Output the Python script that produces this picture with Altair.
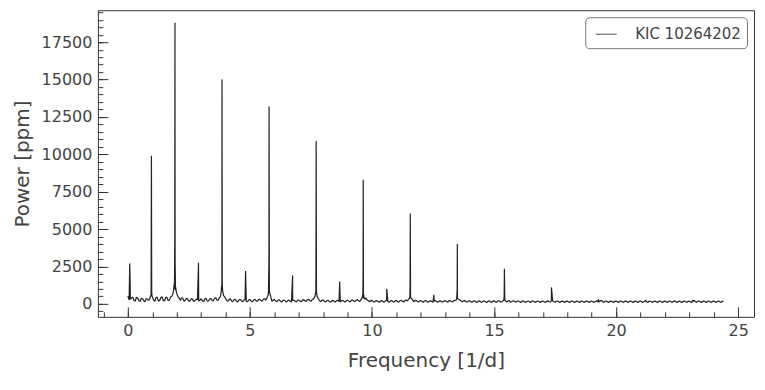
import altair as alt
import pandas as pd

SERIES = "KIC 10264202"

# Noise floor of the periodogram, sampled every 0.1 c/d from 0.0 to 24.4 (ppm)
noise_power = [
    520, 300, 450, 180, 380, 160, 330, 140, 300, 350,
    500, 170, 450, 230, 480, 190, 430, 250, 500, 1000,
    700, 400, 400, 170, 380, 160, 350, 150, 320, 180,
    340, 140, 370, 170, 350, 200, 400, 230, 550, 700,
    380, 180, 330, 140, 310, 130, 290, 150, 280, 140,
    290, 130, 300, 160, 310, 180, 350, 400, 800, 170,
    300, 140, 270, 120, 260, 130, 250, 120, 240, 130,
    260, 130, 280, 150, 300, 170, 330, 700, 350, 150,
    260, 120, 240, 110, 230, 120, 240, 110, 230, 120,
    240, 130, 260, 140, 280, 160, 450, 300, 260, 140,
    230, 110, 220, 100, 210, 110, 230, 100, 220, 110,
    220, 110, 240, 120, 250, 300, 400, 150, 230, 120,
    210, 100, 220, 110, 200, 100, 210, 100, 200, 110,
    210, 100, 220, 120, 230, 350, 250, 140, 220, 110,
    200, 100, 210, 90, 200, 100, 190, 90, 200, 100,
    200, 100, 210, 110, 220, 120, 230, 110, 200, 100,
    190, 90, 200, 100, 190, 90, 200, 100, 190, 90,
    190, 100, 200, 110, 210, 100, 190, 90, 180, 90,
    180, 90, 190, 100, 180, 90, 190, 100, 180, 90,
    190, 100, 200, 110, 230, 100, 190, 90, 180, 90,
    180, 90, 190, 100, 180, 90, 190, 90, 180, 90,
    190, 100, 180, 90, 190, 100, 180, 90, 190, 100,
    180, 90, 190, 100, 200, 90, 180, 90, 190, 100,
    180, 90, 220, 100, 190, 90, 180, 90, 190, 100,
    180, 90, 190, 100, 180,
]
noise_freq = [round(i * 0.1, 1) for i in range(len(noise_power))]

# Noise floor between those samples, at 0.05, 0.15, ... 24.35 c/d (ppm)
noise_mid_power = [
    250, 400, 220, 440, 230, 380, 210, 350, 230, 600,
    250, 410, 180, 420, 210, 440, 200, 450, 700, 900,
    500, 230, 350, 240, 320, 220, 300, 230, 280, 240,
    210, 320, 190, 330, 230, 370, 260, 420, 900, 500,
    220, 300, 190, 280, 180, 270, 190, 250, 180, 250,
    200, 260, 210, 280, 230, 310, 240, 600, 500, 240,
    190, 240, 170, 230, 180, 220, 170, 230, 180, 230,
    190, 250, 210, 270, 220, 290, 450, 500, 220, 240,
    170, 210, 160, 200, 170, 210, 160, 200, 170, 210,
    180, 230, 190, 240, 200, 280, 350, 400, 200, 220,
    160, 200, 150, 190, 150, 200, 150, 190, 160, 200,
    160, 210, 170, 220, 190, 350, 300, 210, 170, 200,
    150, 190, 150, 180, 150, 190, 150, 180, 150, 190,
    150, 200, 160, 210, 250, 300, 190, 200, 160, 190,
    140, 180, 140, 170, 140, 180, 140, 170, 140, 180,
    140, 180, 150, 190, 250, 170, 160, 190, 150, 180,
    140, 170, 130, 160, 140, 170, 130, 160, 140, 170,
    130, 160, 140, 200, 150, 170, 130, 160, 140, 170,
    140, 170, 130, 160, 140, 170, 130, 160, 140, 170,
    130, 160, 140, 190, 140, 170, 130, 160, 140, 170,
    140, 170, 130, 160, 140, 170, 130, 160, 140, 170,
    130, 160, 140, 170, 130, 160, 140, 170, 130, 160,
    140, 170, 130, 160, 140, 170, 130, 160, 140, 170,
    130, 160, 140, 170, 130, 160, 140, 170, 130, 160,
    140, 170, 130, 160,
]
noise_mid_freq = [round(0.05 + i * 0.1, 2) for i in range(len(noise_mid_power))]

# Peaks, side spikes and broadened bases (c/d, ppm)
feature_freq = [
    0.075, 0.095,
    0.93, 0.952, 0.964, 0.975, 0.99,
    1.84, 1.87, 1.895, 1.91, 1.92, 1.928, 1.935, 1.945, 1.96, 1.98, 2.03, 2.07,
    2.892,
    3.78, 3.82, 3.84, 3.851, 3.856, 3.865, 3.88, 3.92,
    4.82,
    5.73, 5.76, 5.778, 5.784, 5.795, 5.82, 5.86,
    6.748,
    7.66, 7.69, 7.705, 7.712, 7.725, 7.748,
    8.676,
    9.59, 9.625, 9.635, 9.64, 9.658, 9.68,
    10.604,
    11.54, 11.56, 11.568, 11.58,
    12.532,
    13.47, 13.49, 13.496, 13.51,
    15.415, 15.424, 15.44,
    17.352, 19.28, 21.21, 23.14,
]
feature_power = [
    2700, 1100,
    550, 1700, 9900, 800, 450,
    650, 900, 1300, 1600, 4300, 18800, 2800, 1500, 1100, 850, 550, 420,
    2750,
    450, 800, 1200, 3200, 15000, 1300, 900, 550,
    2200,
    550, 900, 2900, 13200, 1000, 650, 420,
    1900,
    500, 750, 2300, 10900, 800, 500,
    1500,
    400, 650, 1900, 8300, 600, 380,
    1000,
    400, 1300, 6050, 450,
    600,
    380, 900, 4000, 350,
    600, 2350, 300,
    1100, 300, 260, 250,
]

df = pd.DataFrame({
    "freq": noise_freq + noise_mid_freq + feature_freq,
    "power": noise_power + noise_mid_power + feature_power,
})
df = df.sort_values("freq", kind="stable").reset_index(drop=True)
df["series"] = SERIES

x_major = [0, 5, 10, 15, 20, 25]
x_minor = list(range(-1, 26))
y_major = [0, 2500, 5000, 7500, 10000, 12500, 15000, 17500]
y_minor = list(range(-500, 20000, 500))

FONT = "DejaVu Sans"
TXT = "#444444"
FRAME = "#333333"

xscale = alt.Scale(domain=[-1.23, 25.65], nice=False, zero=False)
yscale = alt.Scale(domain=[-870, 19640], nice=False, zero=False)

line = alt.Chart(df).mark_line(strokeWidth=1.2, strokeJoin="bevel").encode(
    x=alt.X("freq:Q", scale=xscale,
            axis=alt.Axis(orient="bottom", values=x_major, offset=-10, tickSize=10,
                          domain=False, grid=False, labelPadding=6, labelFontSize=16,
                          labelColor=TXT, tickColor=FRAME,
                          title="Frequency [1/d]", titleFontSize=20,
                          titleColor=TXT, titleFontWeight="normal",
                          titlePadding=12, format="d")),
    y=alt.Y("power:Q", scale=yscale,
            axis=alt.Axis(orient="left", values=y_major, offset=-10, tickSize=10,
                          domain=False, grid=False, labelPadding=6, labelFontSize=16,
                          labelColor=TXT, tickColor=FRAME,
                          title="Power [ppm]", titleFontSize=20,
                          titleColor=TXT, titleFontWeight="normal",
                          titlePadding=9, format="d")),
    color=alt.Color("series:N", scale=alt.Scale(range=["#222222"]),
                    legend=alt.Legend(title=None, orient="top-right", offset=7,
                                      symbolType="stroke", symbolSize=441,
                                      symbolStrokeWidth=0.8, symbolOffset=4,
                                      labelOffset=18, labelFontSize=15,
                                      labelColor=TXT, labelFont=FONT,
                                      padding=6, cornerRadius=4,
                                      strokeColor="#777777", fillColor="white")),
)

minor = alt.Chart(df).mark_line(opacity=0).encode(
    x=alt.X("freq:Q", scale=xscale,
            axis=alt.Axis(orient="bottom", values=x_minor, offset=-5, tickSize=5,
                          domain=False, grid=False, labels=False, title=None,
                          tickColor=FRAME)),
    y=alt.Y("power:Q", scale=yscale,
            axis=alt.Axis(orient="left", values=y_minor, offset=-5, tickSize=5,
                          domain=False, grid=False, labels=False, title=None,
                          tickColor=FRAME)),
)

chart = alt.layer(minor, line).resolve_axis(x="independent", y="independent").properties(
    width=657, height=307,
    autosize=alt.AutoSizeParams(type="none"),
    padding={"left": 90, "top": 2, "right": 3, "bottom": 65},
).configure(font=FONT).configure_view(stroke=FRAME, strokeWidth=1)

chart.save("out.html", embed_options={"renderer": "svg", "actions": False})
